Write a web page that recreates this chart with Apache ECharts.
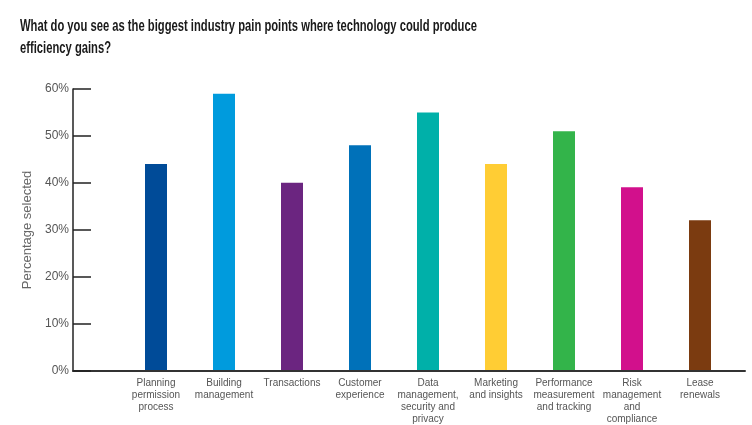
<!DOCTYPE html>
<html>
<head>
<meta charset="utf-8">
<script src="https://cdn.jsdelivr.net/npm/echarts@6/dist/echarts.min.js"></script>
<style>
html,body{margin:0;padding:0;background:#fff;}
#chart{width:752px;height:425px;}
</style>
</head>
<body>
<div id="chart"></div>
<script>
var titleText = 'What do you see as the biggest industry pain points where technology could produce\nefficiency gains?';
var categories = [
  "Planning\npermission\nprocess",
  "Building\nmanagement",
  "Transactions",
  "Customer\nexperience",
  "Data\nmanagement,\nsecurity and\nprivacy",
  "Marketing\nand insights",
  "Performance\nmeasurement\nand tracking",
  "Risk\nmanagement\nand\ncompliance",
  "Lease\nrenewals"
];
var values = [44, 59, 40, 48, 55, 44, 51, 39, 32];
var barColors = ["#004b98", "#009bdd", "#6b2580", "#0071b9", "#00b0a9", "#ffcd34", "#33b44a", "#d2108c", "#7b3b10"];
var yTicks = [0, 10, 20, 30, 40, 50, 60];

var chart = echarts.init(document.getElementById('chart'), null, {renderer: 'canvas'});
var option = {
  backgroundColor: '#fff',
  animation: false,
  graphic: [{
    type: 'text',
    x: 20, y: 15,
    scaleX: 0.66,
    style: {
      text: titleText,
      font: 'bold 17px "Liberation Sans", Arial, sans-serif',
      lineHeight: 22,
      fill: '#1a1a1a',
      verticalAlign: 'top'
    }
  }],
  grid: [
    {left: 122, right: 18, top: 89, bottom: 54},
    {left: 73, right: 7, top: 89, bottom: 54}
  ],
  xAxis: [
    {
      type: 'category', gridIndex: 0, data: categories,
      axisLine: {show: false}, axisTick: {show: false},
      axisLabel: {
        interval: 0, margin: 7, fontSize: 10, lineHeight: 12, color: '#555',
        fontFamily: '"Liberation Sans", Arial, sans-serif'
      }
    },
    {
      type: 'value', gridIndex: 1, min: 0, max: 1,
      axisLine: {show: true, lineStyle: {color: '#333', width: 2}},
      axisTick: {show: false}, axisLabel: {show: false}, splitLine: {show: false}
    }
  ],
  yAxis: [
    {type: 'value', gridIndex: 0, min: yTicks[0], max: yTicks[yTicks.length - 1], interval: 10, show: false},
    {
      type: 'value', gridIndex: 1, min: yTicks[0], max: yTicks[yTicks.length - 1], interval: 10,
      name: 'Percentage selected', nameLocation: 'middle', nameGap: 39,
      nameTextStyle: {fontSize: 13, color: '#666', fontFamily: '"Liberation Sans", Arial, sans-serif'},
      axisLine: {show: true, lineStyle: {color: '#222', width: 1.5}},
      axisTick: {show: true, inside: true, length: 18, lineStyle: {color: '#222', width: 1.5}},
      axisLabel: {formatter: '{value}%', margin: 4, fontSize: 12, color: '#555', fontFamily: '"Liberation Sans", Arial, sans-serif'},
      splitLine: {show: false}
    }
  ],
  series: [{
    type: 'bar', xAxisIndex: 0, yAxisIndex: 0,
    barWidth: 22,
    data: values.map(function (v, i) { return {value: v, itemStyle: {color: barColors[i]}}; })
  }]
};
chart.setOption(option);
</script>
</body>
</html>
